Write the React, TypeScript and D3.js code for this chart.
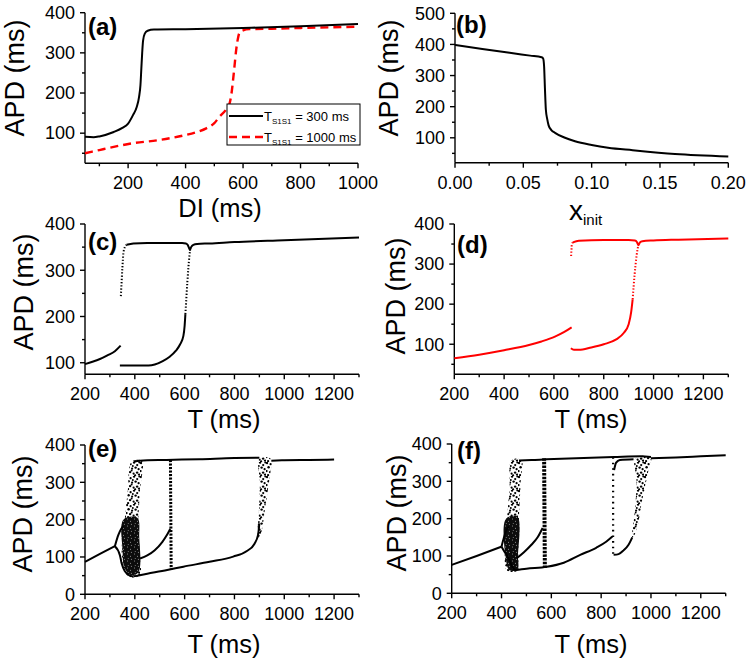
import React from "react";
import * as d3 from "d3";

type Pt = [number, number];
const zip = (xs: number[], ys: number[]): Pt[] => xs.map((x, i) => [x, ys[i]] as Pt);

// ---------------- DATA ----------------
// (a) APD restitution, T_S1S1 = 300 ms (black) and 1000 ms (red dashed)
const aDI300 = [50, 80, 100, 150, 180, 200, 217, 230, 238, 243, 246, 249, 252, 258, 268, 290, 400, 600, 800, 1000];
const aAPD300 = [91, 90, 92, 103, 113, 124, 145, 165, 190, 220, 260, 300, 330, 348, 355, 358, 359, 362, 366, 372];
const aDI1000 = [50, 100, 150, 217, 300, 350, 397, 440, 472, 500, 518, 540, 553, 560, 564, 570, 576, 582, 587, 600, 622, 700, 800, 1000];
const aAPD1000 = [50, 58, 66, 75, 82, 88, 95, 103, 112, 125, 141, 158, 174, 200, 224, 265, 307, 335, 349, 356, 359, 360, 362, 365];
const legendLabels = ["300", "1000"];

// (b) APD vs x_init
const bX = [0, 0.02, 0.04, 0.055, 0.0634, 0.0645, 0.0652, 0.0658, 0.0665, 0.0675, 0.0685, 0.0705, 0.0732, 0.08, 0.0878, 0.1, 0.112, 0.13, 0.161, 0.2];
const bAPD = [398, 385, 373, 364, 359, 355, 330, 260, 190, 160, 140, 125, 116, 101, 89, 77, 68, 60, 48, 40];

// (c) bifurcation (black)
const cLowLeft: Pt[] = [[200, 97], [230, 102], [260, 108], [290, 116], [320, 125], [343, 137]];
const cRiseDots: Pt[] = [[344, 244], [347, 275], [350, 305], [354, 336], [360, 350], [367, 355]];
const cUpper: Pt[] = [[367, 355], [394, 358], [450, 359], [500, 359], [550, 359], [590, 359], [605, 358], [612, 355], [617, 349], [621, 344], [626, 350], [635, 355], [650, 357], [700, 358], [800, 361], [1000, 365], [1300, 371]];
const cLower: Pt[] = [[340, 94], [400, 94], [455, 94], [480, 96], [510, 103], [540, 113], [565, 126], [582, 140], [595, 158], [600, 180], [603, 205]];
const cLowerDots: Pt[] = [[603, 205], [607, 240], [611, 275], [615, 305], [619, 330], [622, 344]];

// (d) bifurcation (red)
const dLowLeft: Pt[] = [[200, 65], [300, 74], [400, 85], [500, 98], [550, 107], [604, 119], [640, 130], [671, 142]];
const dRiseDots: Pt[] = [[669, 320], [670, 332], [671, 342], [672, 350], [676, 354]];
const dUpper: Pt[] = [[676, 354], [700, 358], [800, 360], [900, 360], [925, 359], [933, 355], [939, 347], [945, 354], [955, 357], [1000, 359], [1100, 361], [1300, 364]];
const dLower: Pt[] = [[668, 90], [680, 86], [700, 86], [750, 92], [800, 100], [850, 112], [880, 128], [900, 150], [910, 180], [916, 212]];
const dLowerDots: Pt[] = [[916, 212], [920, 245], [924, 275], [928, 300], [932, 322], [936, 338], [939, 347]];

// (e) bifurcation with noise (black)
const eStart: Pt[] = [[200, 87], [260, 108], [320, 129]];
const eLoopUp: Pt[] = [[320, 129], [334, 159], [345, 175], [354, 183]];
const eLoopLow: Pt[] = [[320, 129], [340, 105], [347, 83], [361, 61], [380, 50], [395, 48]];
const eCloud: Pt[] = [[387, 355], [428, 358], [421, 279], [414, 190], [421, 94], [421, 52], [381, 46], [354, 72], [347, 119], [358, 190], [372, 279]];
const eCore: Pt[] = [[354, 200], [410, 205], [418, 150], [418, 64], [400, 52], [382, 52], [358, 72], [351, 120]];
const eUpper: Pt[] = [[395, 355], [420, 358], [527, 360], [660, 362], [800, 365], [900, 366]];
const eMid: Pt[] = [[421, 96], [450, 104], [480, 118], [510, 140], [530, 160], [542, 175]];
const eVert: Pt[] = [[543, 360], [546, 66]];
const eLower: Pt[] = [[395, 48], [450, 55], [530, 65], [595, 74], [700, 87], [795, 101], [850, 116], [880, 135], [895, 160], [900, 190]];
const eCluster: Pt[] = [[893, 150], [905, 160], [925, 240], [945, 330], [950, 360], [925, 368], [898, 362], [902, 300], [898, 220]];
const eTail: Pt[] = [[948, 358], [1000, 359], [1100, 360], [1200, 361]];

// (f) bifurcation with noise (black)
const fStart: Pt[] = [[200, 76], [300, 100], [400, 125]];
const fLoopUp: Pt[] = [[400, 125], [410, 150], [420, 170], [430, 178]];
const fLoopLow: Pt[] = [[400, 125], [415, 108], [427, 96], [438, 78], [447, 67], [460, 62]];
const fCloud: Pt[] = [[440, 356], [480, 358], [477, 300], [470, 200], [467, 100], [466, 62], [450, 57], [420, 62], [413, 100], [420, 180], [432, 280]];
const fCore: Pt[] = [[418, 200], [464, 205], [466, 100], [464, 64], [432, 62], [416, 100]];
const fUpper: Pt[] = [[470, 356], [520, 357], [580, 359], [700, 362], [850, 365], [960, 367], [1000, 365]];
const fMid: Pt[] = [[461, 94], [490, 110], [520, 130], [545, 150], [565, 175]];
const fVert1: Pt[] = [[571, 362], [574, 65]];
const fLower: Pt[] = [[454, 62], [500, 66], [582, 71], [650, 82], [716, 103], [780, 122], [820, 138], [845, 152]];
const fVert2: Pt[] = [[848, 365], [848, 100]];
const fBranch: Pt[] = [[850, 103], [870, 105], [890, 115], [910, 130], [925, 150]];
const fTopLoop: Pt[] = [[852, 330], [860, 350], [875, 357], [930, 359]];
const fCluster: Pt[] = [[925, 150], [940, 165], [965, 250], [990, 330], [1000, 362], [960, 368], [935, 360], [942, 300], [935, 220]];
const fTail: Pt[] = [[1000, 362], [1100, 364], [1200, 367], [1300, 370]];

// ticks
const aXMajor = [200, 400, 600, 800, 1000];
const aXMinor = [100, 300, 500, 700, 900];
const aYMajor = [100, 200, 300, 400];
const aYMinor = [50, 150, 250, 350];
const bXMajor = [0, 0.05, 0.1, 0.15, 0.2];
const bXMinor = [0.025, 0.075, 0.125, 0.175];
const bYMajor = [100, 200, 300, 400, 500];
const bYMinor = [50, 150, 250, 350, 450];
const tXMajor = [200, 400, 600, 800, 1000, 1200];
const tXMinor = [300, 500, 700, 900, 1100, 1300];
const cYMajor = [100, 200, 300, 400];
const cYMinor = [150, 250, 350];
const dYMajor = [100, 200, 300, 400];
const dYMinor = [50, 150, 250, 350];
const eYMajor = [0, 100, 200, 300, 400];
const eYMinor = [50, 150, 250, 350];

// ---------------- STYLE / LAYOUT ----------------
const FONT = "'Liberation Sans', Arial, Helvetica, sans-serif";
const RED = "#ff0000";
// speckle tile (dot positions within a pattern tile – purely a fill texture)
const SPECKLE: [number, number, number][] = [
  [1, 1, 1.2], [4.6, 2.2, 1.1], [8.1, 0.6, 1.2], [11.2, 3.1, 1.1], [2.6, 5.2, 1.2], [6.1, 6.6, 1.1],
  [9.6, 5.6, 1.2], [12.6, 7.2, 1.1], [0.6, 9.1, 1.1], [4.1, 10.1, 1.2], [7.6, 11.6, 1.1], [11.1, 10.6, 1.2],
  [2.1, 13.1, 1.1], [9.1, 13.4, 1.1], [13.1, 12.6, 1.2], [5.6, 8.6, 1.0], [13.3, 0.5, 1.0], [6.8, 3.9, 1.0],
];
const SPECK_LIGHT: [number, number][] = [[1.5, 1], [4.5, 3.2], [2.2, 5.4], [5.3, 6.3]];

type Geo = { x0: number; x1: number; yTop: number; yBot: number; xd: [number, number]; yd: [number, number] };
const GA: Geo = { x0: 85, x1: 358, yTop: 12.7, yBot: 163.3, xd: [50, 1000], yd: [25, 400] };
const GB: Geo = { x0: 455, x1: 728.3, yTop: 13.3, yBot: 162.7, xd: [0, 0.2], yd: [20, 500] };
const GC: Geo = { x0: 85, x1: 359, yTop: 224, yBot: 374.3, xd: [200, 1300], yd: [75, 400] };
const GD: Geo = { x0: 454.3, x1: 728.3, yTop: 224, yBot: 374.3, xd: [200, 1300], yd: [25, 400] };
const GE: Geo = { x0: 85, x1: 359, yTop: 445, yBot: 594.3, xd: [200, 1300], yd: [0, 400] };
const GF: Geo = { x0: 451.7, x1: 725.7, yTop: 444, yBot: 593.3, xd: [200, 1300], yd: [0, 400] };

type Scales = { xs: d3.ScaleLinear<number, number>; ys: d3.ScaleLinear<number, number> };
const scalesOf = (g: Geo): Scales => ({
  xs: d3.scaleLinear().domain(g.xd).range([g.x0, g.x1]),
  ys: d3.scaleLinear().domain(g.yd).range([g.yBot, g.yTop]),
});

const pathOf = (s: Scales, pts: Pt[], curve: d3.CurveFactory = d3.curveMonotoneX) =>
  d3.line<Pt>().x((d) => s.xs(d[0])).y((d) => s.ys(d[1])).curve(curve)(pts) || "";
const blobOf = (s: Scales, pts: Pt[]) =>
  d3.line<Pt>().x((d) => s.xs(d[0])).y((d) => s.ys(d[1])).curve(d3.curveCatmullRomClosed.alpha(0.5))(pts) || "";

const intFmt = (v: number) => String(v);

function Axes({ g, s, xMajor, xMinor, yMajor, yMinor, fmtX = intFmt }: {
  g: Geo; s: Scales; xMajor: number[]; xMinor: number[]; yMajor: number[]; yMinor: number[]; fmtX?: (v: number) => string;
}) {
  return (
    <g stroke="#000" fill="none" strokeWidth={1.4}>
      <line x1={g.x0} x2={g.x0} y1={g.yTop} y2={g.yBot} />
      <line x1={g.x0} x2={g.x1} y1={g.yBot} y2={g.yBot} />
      {xMajor.map((v) => <line key={"xM" + v} x1={s.xs(v)} x2={s.xs(v)} y1={g.yBot} y2={g.yBot + 5} />)}
      {xMinor.map((v) => <line key={"xm" + v} x1={s.xs(v)} x2={s.xs(v)} y1={g.yBot} y2={g.yBot + 3} />)}
      {yMajor.map((v) => <line key={"yM" + v} x1={g.x0 - 5} x2={g.x0} y1={s.ys(v)} y2={s.ys(v)} />)}
      {yMinor.map((v) => <line key={"ym" + v} x1={g.x0 - 3} x2={g.x0} y1={s.ys(v)} y2={s.ys(v)} />)}
      <g stroke="none" fill="#000" fontFamily={FONT} fontSize={18}>
        {xMajor.map((v) => (
          <text key={"xt" + v} x={s.xs(v)} y={g.yBot + 26} textAnchor="middle">{fmtX(v)}</text>
        ))}
        {yMajor.map((v) => (
          <text key={"yt" + v} x={g.x0 - 10} y={s.ys(v)} dy="0.35em" textAnchor="end">{intFmt(v)}</text>
        ))}
      </g>
    </g>
  );
}

const YTitle = ({ x, y }: { x: number; y: number }) => (
  <text transform={`translate(${x},${y}) rotate(-90)`} textAnchor="middle" dy="0.35em" fontFamily={FONT} fontSize={27}>APD (ms)</text>
);
const XTitle = ({ x, y, t }: { x: number; y: number; t: string }) => (
  <text x={x} y={y} textAnchor="middle" fontFamily={FONT} fontSize={25.5}>{t}</text>
);
const PLabel = ({ x, y, t }: { x: number; y: number; t: string }) => (
  <text x={x} y={y} fontFamily={FONT} fontSize={24} fontWeight="bold">{t}</text>
);

export default function App() {
  const A = scalesOf(GA), B = scalesOf(GB), C = scalesOf(GC), D = scalesOf(GD), E = scalesOf(GE), F = scalesOf(GF);
  const b2 = d3.format(".2f");
  const lw = 2;
  const dotted = "1.3 1.9";
  return (
    <svg width={750} height={668} style={{ position: "absolute", left: 0, top: 0, background: "#fff" }}>
      <defs>
        <pattern id="speck" width={14} height={14} patternUnits="userSpaceOnUse">
          {SPECKLE.map(([x, y, r], i) => <circle key={i} cx={x} cy={y} r={r} fill="#000" />)}
        </pattern>
        <pattern id="dense" width={7} height={7} patternUnits="userSpaceOnUse">
          <rect width={7} height={7} fill="#0c0c0c" />
          {SPECK_LIGHT.map(([x, y], i) => <circle key={i} cx={x} cy={y} r={0.45} fill="#fff" />)}
        </pattern>
      </defs>
      <rect width={750} height={668} fill="#fff" />

      {/* (a) */}
      <Axes g={GA} s={A} xMajor={aXMajor} xMinor={aXMinor} yMajor={aYMajor} yMinor={aYMinor} />
      <path d={pathOf(A, zip(aDI1000, aAPD1000))} fill="none" stroke={RED} strokeWidth={2.4} strokeDasharray="8 5" />
      <path d={pathOf(A, zip(aDI300, aAPD300))} fill="none" stroke="#000" strokeWidth={lw} />
      <PLabel x={88} y={35} t="(a)" />
      <YTitle x={15} y={78} />
      <XTitle x={220} y={217} t="DI (ms)" />
      <g fontFamily={FONT}>
        <rect x={227} y={104} width={133} height={41} fill="#fff" stroke="#000" strokeWidth={1} />
        <line x1={229} x2={263} y1={116} y2={116} stroke="#000" strokeWidth={lw} />
        <line x1={229} x2={263} y1={137} y2={137} stroke={RED} strokeWidth={2.4} strokeDasharray="8 5" />
        {legendLabels.map((l, i) => (
          <text key={l} x={264} y={121 + i * 21} fontSize={13}>
            T<tspan fontSize={8} dy={3}>S1S1</tspan>
            <tspan dy={-3}> = {l} ms</tspan>
          </text>
        ))}
      </g>

      {/* (b) */}
      <Axes g={GB} s={B} xMajor={bXMajor} xMinor={bXMinor} yMajor={bYMajor} yMinor={bYMinor} fmtX={(v) => b2(v)} />
      <path d={pathOf(B, zip(bX, bAPD))} fill="none" stroke="#000" strokeWidth={lw} />
      <PLabel x={456} y={33} t="(b)" />
      <YTitle x={389} y={78} />
      <text x={569} y={220} fontFamily={FONT} fontSize={28}>
        x<tspan fontSize={15} dy={5}>init</tspan>
      </text>

      {/* (c) */}
      <Axes g={GC} s={C} xMajor={tXMajor} xMinor={tXMinor} yMajor={cYMajor} yMinor={cYMinor} />
      <path d={pathOf(C, cLowLeft)} fill="none" stroke="#000" strokeWidth={lw} />
      <path d={pathOf(C, cRiseDots)} fill="none" stroke="#000" strokeWidth={lw} strokeDasharray={dotted} />
      <path d={pathOf(C, cUpper)} fill="none" stroke="#000" strokeWidth={lw} />
      <path d={pathOf(C, cLower)} fill="none" stroke="#000" strokeWidth={lw} />
      <path d={pathOf(C, cLowerDots)} fill="none" stroke="#000" strokeWidth={lw} strokeDasharray={dotted} />
      <PLabel x={88} y={250} t="(c)" />
      <YTitle x={24} y={292} />
      <XTitle x={224} y={428} t="T (ms)" />

      {/* (d) */}
      <Axes g={GD} s={D} xMajor={tXMajor} xMinor={tXMinor} yMajor={dYMajor} yMinor={dYMinor} />
      <path d={pathOf(D, dLowLeft)} fill="none" stroke={RED} strokeWidth={lw} />
      <path d={pathOf(D, dRiseDots)} fill="none" stroke={RED} strokeWidth={lw} strokeDasharray={dotted} />
      <path d={pathOf(D, dUpper)} fill="none" stroke={RED} strokeWidth={lw} />
      <path d={pathOf(D, dLower)} fill="none" stroke={RED} strokeWidth={lw} />
      <path d={pathOf(D, dLowerDots)} fill="none" stroke={RED} strokeWidth={lw} strokeDasharray={dotted} />
      <PLabel x={457} y={253} t="(d)" />
      <YTitle x={396} y={296} />
      <XTitle x={591} y={428} t="T (ms)" />

      {/* (e) */}
      <Axes g={GE} s={E} xMajor={tXMajor} xMinor={tXMinor} yMajor={eYMajor} yMinor={eYMinor} />
      <path d={blobOf(E, eCloud)} fill="url(#speck)" />
      <path d={blobOf(E, eCore)} fill="url(#dense)" />
      <path d={pathOf(E, eVert, d3.curveLinear)} fill="none" stroke="#000" strokeWidth={3} strokeDasharray="2.2 1.3" />
      <path d={blobOf(E, eCluster)} fill="url(#speck)" />
      {[eStart, eLoopUp, eLoopLow, eUpper, eMid, eLower, eTail].map((p, i) => (
        <path key={i} d={pathOf(E, p)} fill="none" stroke="#000" strokeWidth={lw} />
      ))}
      <PLabel x={88} y={457} t="(e)" />
      <YTitle x={23} y={514} />
      <XTitle x={224} y={653} t="T (ms)" />

      {/* (f) */}
      <Axes g={GF} s={F} xMajor={tXMajor} xMinor={tXMinor} yMajor={eYMajor} yMinor={eYMinor} />
      <path d={blobOf(F, fCloud)} fill="url(#speck)" />
      <path d={blobOf(F, fCore)} fill="url(#dense)" />
      <path d={pathOf(F, fVert1, d3.curveLinear)} fill="none" stroke="#000" strokeWidth={4} strokeDasharray="2.5 1.2" />
      <path d={pathOf(F, fVert2, d3.curveLinear)} fill="none" stroke="#000" strokeWidth={2.2} strokeDasharray="1.6 4" />
      <path d={blobOf(F, fCluster)} fill="url(#speck)" />
      {[fStart, fLoopUp, fLoopLow, fUpper, fMid, fLower, fBranch, fTopLoop, fTail].map((p, i) => (
        <path key={i} d={pathOf(F, p)} fill="none" stroke="#000" strokeWidth={lw} />
      ))}
      <PLabel x={457} y={459} t="(f)" />
      <YTitle x={397} y={513} />
      <XTitle x={591} y={653} t="T (ms)" />
    </svg>
  );
}
